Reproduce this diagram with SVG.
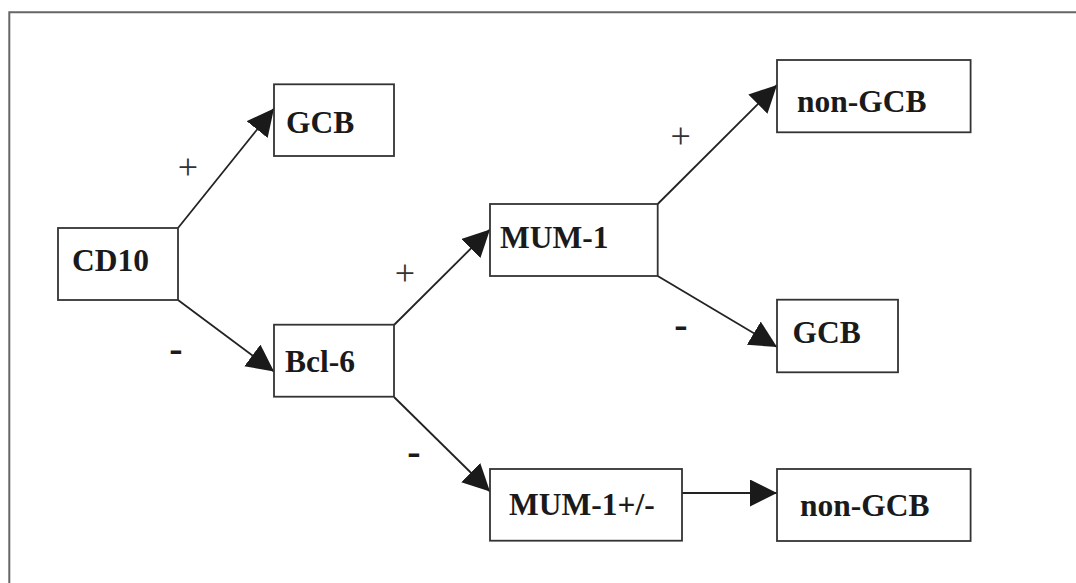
<svg xmlns="http://www.w3.org/2000/svg" width="1076" height="583" viewBox="0 0 1076 583">
<style>
.box{fill:#fff;stroke:#333;stroke-width:1.8}
.lbl{font-family:"Liberation Serif","Times New Roman",serif;font-weight:bold;font-size:31.5px;fill:#1a1a1a}
.plus{font-family:"Liberation Serif","Times New Roman",serif;font-size:36px;fill:#333;text-anchor:middle}
.minus{font-family:"Liberation Serif","Times New Roman",serif;font-weight:bold;font-size:40px;fill:#1a1a1a;text-anchor:middle}
.conn{fill:none;stroke:#222;stroke-width:1.8;marker-end:url(#arr)}
</style>
<defs>
<marker id="arr" markerUnits="userSpaceOnUse" markerWidth="28" markerHeight="28" refX="27" refY="13.5" orient="auto">
<path d="M0,0 L27,13.5 L0,27 z" fill="#1a1a1a"/>
</marker>
</defs>
<rect width="1076" height="583" fill="#fff"/>
<g id="frame" fill="none" stroke="#666" stroke-width="2">
<path d="M9.3,583 L9.3,12.3 L1076,12.3"/>
</g>
<g id="connectors">
<path class="conn" d="M178,228 L274,108.5"/>
<path class="conn" d="M178,300 L274,371.5"/>
<path class="conn" d="M394,325 L490,229.5"/>
<path class="conn" d="M394,397 L490,491.5"/>
<path class="conn" d="M657.7,204 L777,85"/>
<path class="conn" d="M657.7,276 L777,347"/>
<path class="conn" d="M682,493 L777,493"/>
<text class="plus" x="188" y="179">+</text>
<text class="plus" x="405" y="285">+</text>
<text class="plus" x="680.6" y="147.5">+</text>
<text class="minus" x="176" y="362">-</text>
<text class="minus" x="414" y="465">-</text>
<text class="minus" x="681" y="338">-</text>
</g>
<g id="node-cd10"><rect class="box" x="58" y="228" width="120" height="72"/><text class="lbl" x="72" y="271">CD10</text></g>
<g id="node-gcb1"><rect class="box" x="274" y="84.3" width="120" height="71.7"/><text class="lbl" x="286" y="133">GCB</text></g>
<g id="node-bcl6"><rect class="box" x="274" y="324.7" width="120" height="72"/><text class="lbl" x="285" y="372">Bcl-6</text></g>
<g id="node-mum1"><rect class="box" x="490" y="204" width="167.7" height="72"/><text class="lbl" x="500" y="248">MUM-1</text></g>
<g id="node-mum1pm"><rect class="box" x="490" y="469" width="192" height="71.7"/><text class="lbl" x="509" y="515">MUM-1+/-</text></g>
<g id="node-nongcb1"><rect class="box" x="777" y="60" width="193.6" height="72.3"/><text class="lbl" x="797" y="112">non-GCB</text></g>
<g id="node-gcb2"><rect class="box" x="777" y="299.7" width="121" height="72.6"/><text class="lbl" x="792.5" y="343">GCB</text></g>
<g id="node-nongcb2"><rect class="box" x="777" y="469" width="193.6" height="72"/><text class="lbl" x="800" y="516">non-GCB</text></g>
</svg>
